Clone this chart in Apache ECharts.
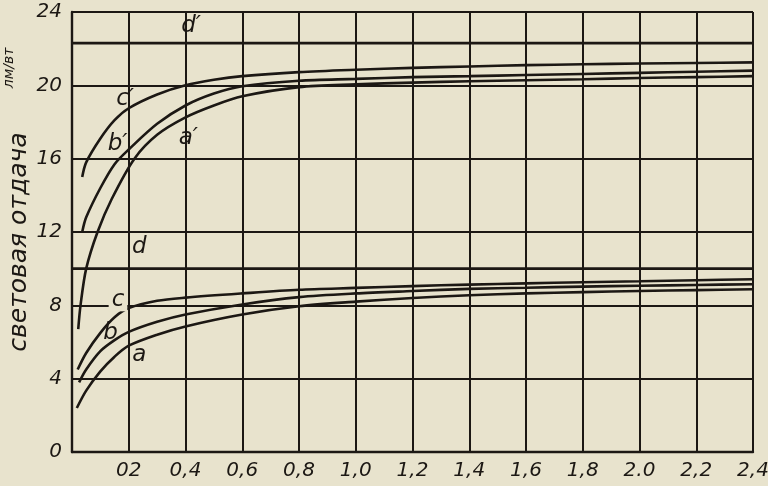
<!DOCTYPE html>
<html>
<head>
<meta charset="utf-8">
<script src="https://cdn.jsdelivr.net/npm/echarts@6/dist/echarts.min.js"></script>
<style>
  html, body { margin: 0; padding: 0; background: #e8e3cd; }
  #chart { width: 768px; height: 486px; }
</style>
</head>
<body>
<div id="chart"></div>
<script>
// Tick labels (as printed in the original, including "02" and "2.0")
const xTickLabels = ['', '02', '0,4', '0,6', '0,8', '1,0', '1,2', '1,4', '1,6', '1,8', '2.0', '2,2', '2,4'];
const yTickLabels = ['0', '4', '8', '12', '16', '20', '24'];

// Lower group of curves
const aX = [0.017, 0.05, 0.1, 0.15, 0.2, 0.3, 0.4, 0.6, 0.8, 1.0, 1.2, 1.4, 1.6, 1.8, 2.0, 2.2, 2.4];
const aY = [2.4, 3.35, 4.4, 5.2, 5.8, 6.4, 6.85, 7.5, 7.95, 8.2, 8.4, 8.55, 8.65, 8.72, 8.78, 8.83, 8.88];
const bX = [0.025, 0.05, 0.1, 0.15, 0.2, 0.3, 0.4, 0.6, 0.8, 1.0, 1.2, 1.4, 1.6, 1.8, 2.0, 2.2, 2.4];
const bY = [3.8, 4.5, 5.5, 6.1, 6.55, 7.1, 7.5, 8.05, 8.45, 8.65, 8.78, 8.9, 8.96, 9.02, 9.07, 9.11, 9.15];
const cX = [0.02, 0.05, 0.1, 0.15, 0.2, 0.3, 0.4, 0.6, 0.8, 1.0, 1.2, 1.4, 1.6, 1.8, 2.0, 2.2, 2.4];
const cY = [4.5, 5.4, 6.5, 7.35, 7.85, 8.25, 8.42, 8.65, 8.85, 8.95, 9.05, 9.13, 9.2, 9.26, 9.31, 9.37, 9.42];

// Upper group of curves
const a2X = [0.022, 0.03, 0.05, 0.09, 0.14, 0.22, 0.3, 0.4, 0.5, 0.6, 0.8, 1.0, 1.2, 1.4, 1.6, 1.8, 2.0, 2.2, 2.4];
const a2Y = [6.7, 8.0, 10.0, 12.0, 13.8, 16.0, 17.3, 18.25, 18.9, 19.4, 19.9, 20.05, 20.15, 20.22, 20.28, 20.33, 20.4, 20.45, 20.5];
const b2X = [0.036, 0.05, 0.1, 0.15, 0.2, 0.3, 0.4, 0.5, 0.6, 0.8, 1.0, 1.2, 1.4, 1.6, 1.8, 2.0, 2.2, 2.4];
const b2Y = [12.0, 12.8, 14.4, 15.7, 16.5, 17.9, 18.9, 19.55, 19.95, 20.25, 20.35, 20.45, 20.5, 20.56, 20.62, 20.68, 20.74, 20.8];
const c2X = [0.036, 0.05, 0.1, 0.15, 0.2, 0.3, 0.4, 0.5, 0.6, 0.8, 1.0, 1.2, 1.4, 1.6, 1.8, 2.0, 2.2, 2.4];
const c2Y = [15.0, 15.8, 17.1, 18.1, 18.75, 19.5, 20.0, 20.3, 20.5, 20.72, 20.85, 20.95, 21.03, 21.1, 21.15, 21.19, 21.22, 21.25];

// Horizontal reference lines d and d'
const dX = [0, 2.4];
const dY = [10, 10];
const d2X = [0, 2.4];
const d2Y = [22.3, 22.3];

// Curve annotation labels: text and data position
const labelText = ['a', 'b', 'c', 'd', 'a\u2032', 'b\u2032', 'c\u2032', 'd\u2032'];
const labelX = [0.237, 0.136, 0.162, 0.237, 0.41, 0.161, 0.187, 0.42];
const labelY = [5.3, 6.47, 8.3, 11.2, 17.15, 16.8, 19.27, 23.26];
const labelCutsLine = [false, false, true, false, false, false, false, false];

const INK = '#1c1814';
const BG = '#e8e3cd';
const FONT = 'DejaVu Sans';

function pairs(xs, ys) { return xs.map((x, i) => [x, ys[i]]); }

function curve(name, xs, ys, smooth) {
  return {
    name, type: 'line', data: pairs(xs, ys), showSymbol: false, smooth: smooth,
    lineStyle: { color: INK, width: 2.6 }, z: 3, silent: true
  };
}

const labelData = labelText.map((t, i) => [labelX[i], labelY[i], i]);

const chart = echarts.init(document.getElementById('chart'), null, { renderer: 'canvas' });
chart.setOption({
  backgroundColor: BG,
  animation: false,
  grid: { left: 72, right: 15, top: 12, bottom: 34, outerBoundsMode: 'none', containLabel: false },
  xAxis: {
    type: 'value', min: 0, max: 2.4, interval: 0.2,
    axisLine: { show: true, lineStyle: { color: INK, width: 2.4 } },
    axisTick: { show: false },
    splitLine: { show: true, lineStyle: { color: INK, width: 2 } },
    axisLabel: {
      margin: 9, color: INK, fontFamily: FONT, fontStyle: 'italic', fontSize: 20,
      formatter: v => xTickLabels[Math.round(v / 0.2)] || ''
    }
  },
  yAxis: {
    type: 'value', min: 0, max: 24, interval: 4,
    axisLine: { show: true, lineStyle: { color: INK, width: 2.4 } },
    axisTick: { show: false },
    splitLine: { show: true, lineStyle: { color: INK, width: 2 } },
    axisLabel: {
      margin: 10, color: INK, fontFamily: FONT, fontStyle: 'italic', fontSize: 20,
      formatter: v => yTickLabels[Math.round(v / 4)] || ''
    }
  },
  graphic: [
    { type: 'text', x: 19, y: 242, rotation: Math.PI / 2, z: 10,
      style: { text: 'световая отдача', fill: INK, fontFamily: FONT, fontStyle: 'italic', fontSize: 25, align: 'center', verticalAlign: 'middle' } },
    { type: 'text', x: 9, y: 68, rotation: Math.PI / 2, z: 10,
      style: { text: 'лм/вт', fill: INK, fontFamily: FONT, fontStyle: 'italic', fontSize: 14, align: 'center', verticalAlign: 'middle' } }
  ],
  series: [
    curve('a', aX, aY, 0.3),
    curve('b', bX, bY, 0.3),
    curve('c', cX, cY, 0.3),
    curve('d', dX, dY, false),
    curve("a'", a2X, a2Y, 0.3),
    curve("b'", b2X, b2Y, 0.3),
    curve("c'", c2X, c2Y, 0.3),
    curve("d'", d2X, d2Y, false),
    {
      type: 'custom', data: labelData, z: 6, silent: true,
      renderItem: (params, api) => {
        const i = api.value(2);
        const p = api.coord([api.value(0), api.value(1)]);
        return {
          type: 'text', x: p[0], y: p[1],
          style: {
            text: labelText[i], fill: INK, fontFamily: FONT, fontStyle: 'italic', fontSize: 23,
            align: 'center', verticalAlign: 'middle',
            backgroundColor: labelCutsLine[i] ? BG : null, padding: [0, 3, 0, 3]
          }
        };
      }
    }
  ]
});
</script>
</body>
</html>
